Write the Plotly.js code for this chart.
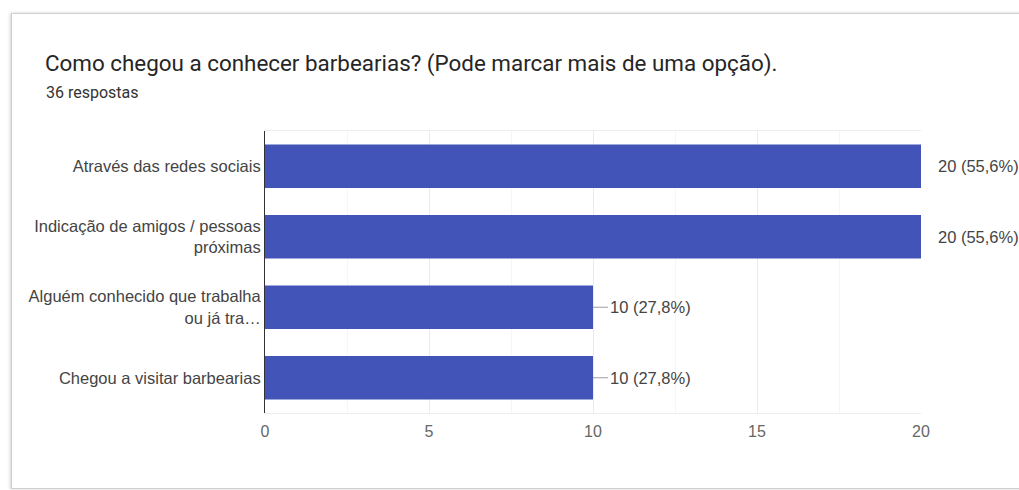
<!DOCTYPE html>
<html>
<head>
<meta charset="utf-8">
<script src="https://cdn.plot.ly/plotly-3.0.1.min.js"></script>
<style>
	html, body { margin: 0; padding: 0; background: #ffffff; overflow: hidden; }
	#card {
		position: absolute; left: 11px; top: 13px; width: 1040px; height: 474px;
		border: 1px solid #d0d0d0; box-shadow: -1px 0 3px rgba(0,0,0,0.18);
		background: #ffffff;
	}
	#plot { position: absolute; left: 0; top: 0; width: 1019px; height: 490px; }
</style>
</head>
<body>
<div id="card"></div>
<div id="plot"></div>
<script>
// respostas do formulário
const categorias = [
	'Através das redes sociais',
	'Indicação de amigos / pessoas<br>próximas',
	'Alguém conhecido que trabalha<br>ou já tra…',
	'Chegou a visitar barbearias'
];
const contagens = [20, 20, 10, 10];
const rotulos = ['20 (55,6%)', '20 (55,6%)', '10 (27,8%)', '10 (27,8%)'];
const totalRespostas = 36;
const xMax = 20;

(function(){
	const textColor = '#444444';
	const fonte = 'Liberation Sans, Arial, sans-serif';

	const trace = {
		type: 'bar',
		orientation: 'h',
		x: contagens,
		y: categorias,
		marker: {color: '#4254b8', line: {width: 0}},
		hoverinfo: 'none'
	};

	// rótulos de valor com pequena linha guia
	const anotacoes = contagens.map((v, i) => ({
		x: v, y: categorias[i], xref: 'x', yref: 'y',
		text: rotulos[i],
		showarrow: true, arrowhead: 0, arrowwidth: 1,
		arrowcolor: v >= xMax ? 'rgba(0,0,0,0)' : '#9e9e9e',
		ax: 15, ay: 0, standoff: 0,
		xanchor: 'left', yanchor: 'middle',
		font: {family: fonte, size: 16.5, color: textColor}
	}));

	anotacoes.push({
		xref: 'paper', yref: 'paper',
		x: (44 - 265) / 656, y: (413 - 93) / 282,
		xanchor: 'left', yanchor: 'middle', showarrow: false,
		text: totalRespostas + ' respostas',
		font: {family: 'Roboto, sans-serif', size: 16, color: '#333333'}
	});

	const layout = {
		width: 1019, height: 490,
		margin: {l: 265, r: 98, t: 131, b: 77},
		paper_bgcolor: 'rgba(0,0,0,0)',
		plot_bgcolor: 'rgba(0,0,0,0)',
		showlegend: false,
		bargap: 0.38,
		title: {
			text: 'Como chegou a conhecer barbearias? (Pode marcar mais de uma opção).',
			xref: 'container', yref: 'container',
			x: 45 / 1019, y: 1 - 63 / 490, xanchor: 'left', yanchor: 'middle',
			font: {family: 'Roboto, sans-serif', size: 22.4, color: '#262626'}
		},
		xaxis: {
			range: [0, xMax], dtick: 5, tick0: 0,
			showgrid: true, gridcolor: '#ebebeb', zeroline: false,
			minor: {dtick: 2.5, showgrid: true, gridcolor: '#f6f6f6'},
			showline: true, mirror: true, linecolor: '#ededed', linewidth: 1,
			ticks: 'outside', ticklen: 4, tickcolor: 'rgba(0,0,0,0)',
			tickfont: {family: fonte, size: 16, color: '#666666'},
			fixedrange: true
		},
		yaxis: {
			autorange: 'reversed',
			showline: true, linecolor: '#333333', linewidth: 1,
			showgrid: false, ticks: '',
			ticklabelstandoff: 0,
			tickfont: {family: fonte, size: 16.5, color: textColor},
			fixedrange: true
		},
		annotations: anotacoes
	};

	Plotly.newPlot('plot', [trace], layout, {displayModeBar: false, staticPlot: true});
})();
</script>
</body>
</html>
